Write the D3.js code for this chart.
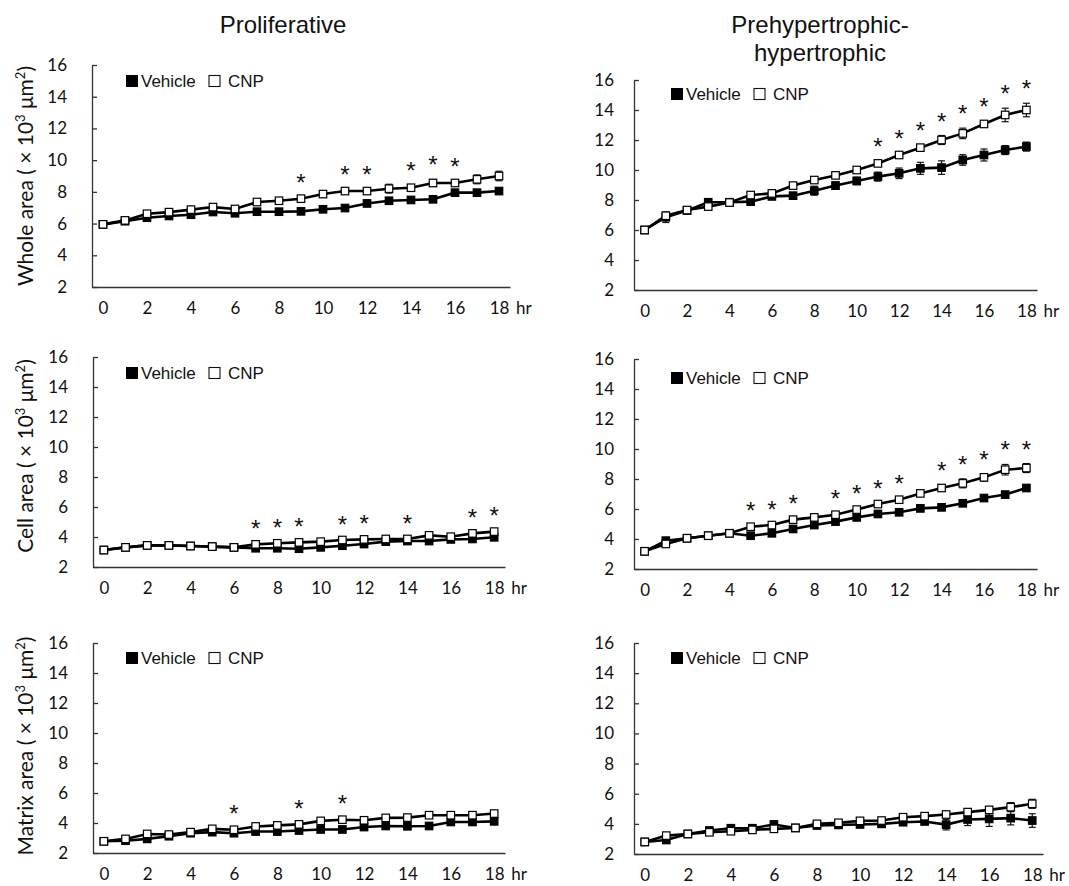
<!DOCTYPE html>
<html>
<head>
<meta charset="utf-8">
<script src="https://cdn.jsdelivr.net/npm/d3@7"></script>
<style>
  body { margin: 0; background: #fff; }
  .axis path, .axis line { stroke: #333; stroke-width: 1.3px; }
  .axis text { font-family: Lato, "Open Sans", sans-serif; font-size: 17px; fill: #111; }
  .hr { font-family: Lato, "Open Sans", sans-serif; font-size: 17px; fill: #111; }
  .title { font-family: "Liberation Sans", Arial, sans-serif; font-size: 24px; fill: #111; }
  .ytitle { font-family: Lato, "Open Sans", sans-serif; font-size: 21px; fill: #111; }
  .legend text { font-family: "Liberation Sans", Arial, sans-serif; font-size: 17px; fill: #111; }
  .star { font-family: "Liberation Sans", Arial, sans-serif; font-size: 24px; fill: #111; }
</style>
</head>
<body>
<script>
// categories and ticks
var hours = [0, 1, 2, 3, 4, 5, 6, 7, 8, 9, 10, 11, 12, 13, 14, 15, 16, 17, 18];
var xTickValues = [0, 2, 4, 6, 8, 10, 12, 14, 16, 18];
var yTickValues = [2, 4, 6, 8, 10, 12, 14, 16];
var columnTitles = [["Proliferative"], ["Prehypertrophic-", "hypertrophic"]];
var rowNames = ["Whole area", "Cell area", "Matrix area"];

// Whole area, proliferative
var wholeProVehicle = [5.95, 6.15, 6.37, 6.48, 6.56, 6.73, 6.65, 6.75, 6.75, 6.77, 6.9, 6.98, 7.27, 7.44, 7.49, 7.53, 7.95, 7.95, 8.05];
var wholeProVehicleErr = [0.05, 0.1, 0.1, 0.1, 0.1, 0.1, 0.1, 0.1, 0.1, 0.1, 0.12, 0.12, 0.12, 0.12, 0.12, 0.12, 0.12, 0.12, 0.12];
var wholeProCNP = [5.95, 6.2, 6.62, 6.72, 6.88, 7.04, 6.92, 7.36, 7.44, 7.57, 7.86, 8.05, 8.05, 8.2, 8.26, 8.56, 8.56, 8.79, 9.0];
var wholeProCNPErr = [0.05, 0.1, 0.12, 0.12, 0.12, 0.15, 0.12, 0.12, 0.12, 0.12, 0.2, 0.15, 0.15, 0.28, 0.15, 0.22, 0.15, 0.28, 0.3];
var wholeProSig = [9, 11, 12, 14, 15, 16];

// Whole area, prehypertrophic-hypertrophic
var wholeHyVehicle = [6.0, 6.85, 7.3, 7.85, 7.85, 7.89, 8.24, 8.29, 8.62, 8.96, 9.27, 9.56, 9.78, 10.11, 10.16, 10.67, 11.0, 11.33, 11.56];
var wholeHyVehicleErr = [0.05, 0.35, 0.2, 0.2, 0.15, 0.2, 0.2, 0.2, 0.3, 0.25, 0.25, 0.3, 0.35, 0.4, 0.45, 0.35, 0.4, 0.3, 0.3];
var wholeHyCNP = [6.0, 6.95, 7.33, 7.56, 7.83, 8.33, 8.44, 8.96, 9.33, 9.64, 10.0, 10.44, 11.0, 11.49, 12.0, 12.44, 13.07, 13.67, 14.0];
var wholeHyCNPErr = [0.05, 0.2, 0.2, 0.15, 0.15, 0.15, 0.15, 0.15, 0.15, 0.15, 0.15, 0.15, 0.15, 0.2, 0.3, 0.35, 0.2, 0.45, 0.45];
var wholeHySig = [11, 12, 13, 14, 15, 16, 17, 18];

// Cell area, proliferative
var cellProVehicle = [3.13, 3.31, 3.44, 3.44, 3.4, 3.36, 3.31, 3.25, 3.25, 3.22, 3.31, 3.42, 3.53, 3.69, 3.73, 3.73, 3.84, 3.87, 3.98];
var cellProVehicleErr = [0.05, 0.08, 0.08, 0.08, 0.08, 0.08, 0.08, 0.08, 0.08, 0.08, 0.08, 0.08, 0.08, 0.08, 0.08, 0.08, 0.08, 0.08, 0.08];
var cellProCNP = [3.13, 3.31, 3.44, 3.44, 3.4, 3.36, 3.31, 3.51, 3.58, 3.64, 3.69, 3.8, 3.84, 3.87, 3.87, 4.11, 4.02, 4.24, 4.36];
var cellProCNPErr = [0.05, 0.08, 0.08, 0.08, 0.08, 0.08, 0.08, 0.08, 0.08, 0.08, 0.08, 0.08, 0.08, 0.08, 0.08, 0.1, 0.08, 0.12, 0.12];
var cellProSig = [7, 8, 9, 11, 12, 14, 17, 18];

// Cell area, prehypertrophic-hypertrophic
var cellHyVehicle = [3.18, 3.89, 4.05, 4.22, 4.38, 4.22, 4.38, 4.67, 4.93, 5.16, 5.44, 5.67, 5.78, 6.04, 6.11, 6.38, 6.73, 6.96, 7.4];
var cellHyVehicleErr = [0.05, 0.1, 0.1, 0.1, 0.1, 0.1, 0.1, 0.1, 0.1, 0.1, 0.1, 0.1, 0.1, 0.1, 0.1, 0.1, 0.1, 0.12, 0.12];
var cellHyCNP = [3.18, 3.67, 4.05, 4.22, 4.38, 4.82, 4.93, 5.29, 5.44, 5.62, 5.96, 6.33, 6.62, 7.04, 7.4, 7.71, 8.11, 8.62, 8.73];
var cellHyCNPErr = [0.05, 0.1, 0.1, 0.1, 0.1, 0.12, 0.1, 0.1, 0.1, 0.1, 0.1, 0.1, 0.1, 0.2, 0.2, 0.3, 0.25, 0.35, 0.3];
var cellHySig = [5, 6, 7, 9, 10, 11, 12, 14, 15, 16, 17, 18];

// Matrix area, proliferative
var matrixProVehicle = [2.78, 2.82, 2.94, 3.12, 3.32, 3.39, 3.32, 3.43, 3.43, 3.5, 3.57, 3.57, 3.73, 3.8, 3.78, 3.8, 4.07, 4.07, 4.11];
var matrixProVehicleErr = [0.05, 0.1, 0.1, 0.1, 0.1, 0.1, 0.1, 0.1, 0.1, 0.1, 0.1, 0.1, 0.1, 0.1, 0.1, 0.1, 0.1, 0.1, 0.1];
var matrixProCNP = [2.78, 2.94, 3.27, 3.23, 3.39, 3.61, 3.55, 3.77, 3.84, 3.91, 4.14, 4.22, 4.18, 4.34, 4.36, 4.52, 4.52, 4.52, 4.63];
var matrixProCNPErr = [0.05, 0.1, 0.1, 0.1, 0.1, 0.1, 0.1, 0.1, 0.1, 0.1, 0.1, 0.1, 0.1, 0.1, 0.1, 0.1, 0.1, 0.12, 0.15];
var matrixProSig = [6, 9, 11];

// Matrix area, prehypertrophic-hypertrophic
var matrixHyVehicle = [2.8, 2.93, 3.33, 3.56, 3.71, 3.71, 3.96, 3.73, 3.89, 3.93, 3.96, 4.0, 4.11, 4.16, 3.95, 4.29, 4.33, 4.38, 4.22];
var matrixHyVehicleErr = [0.05, 0.1, 0.1, 0.1, 0.1, 0.1, 0.1, 0.1, 0.1, 0.15, 0.15, 0.15, 0.2, 0.2, 0.35, 0.4, 0.5, 0.45, 0.45];
var matrixHyCNP = [2.8, 3.22, 3.33, 3.44, 3.51, 3.6, 3.67, 3.73, 4.0, 4.07, 4.2, 4.22, 4.44, 4.51, 4.62, 4.78, 4.93, 5.11, 5.33];
var matrixHyCNPErr = [0.05, 0.1, 0.1, 0.1, 0.1, 0.1, 0.1, 0.1, 0.1, 0.1, 0.15, 0.15, 0.15, 0.15, 0.15, 0.2, 0.2, 0.3, 0.3];
var matrixHySig = [];

var width = 1069, height = 886;

var svg = d3.select("body")
            .append("svg")
            .attr("width", width)
            .attr("height", height);

// panel boxes: x0/x1 = ends of the x axis, y0 = top (16), y1 = bottom (2)
var panels = [
  {veh: wholeProVehicle, vehErr: wholeProVehicleErr, cnp: wholeProCNP, cnpErr: wholeProCNPErr, sig: wholeProSig,
   x0: 92, x1: 510, y0: 65, y1: 287, lx: 126, ly: 81, pad: 25},
  {veh: wholeHyVehicle, vehErr: wholeHyVehicleErr, cnp: wholeHyCNP, cnpErr: wholeHyCNPErr, sig: wholeHySig,
   x0: 634, x1: 1037, y0: 80, y1: 290, lx: 671, ly: 94, pad: 20},
  {veh: cellProVehicle, vehErr: cellProVehicleErr, cnp: cellProCNP, cnpErr: cellProCNPErr, sig: cellProSig,
   x0: 93, x1: 505, y0: 357, y1: 567, lx: 126, ly: 373, pad: 25},
  {veh: cellHyVehicle, vehErr: cellHyVehicleErr, cnp: cellHyCNP, cnpErr: cellHyCNPErr, sig: cellHySig,
   x0: 634, x1: 1037, y0: 359, y1: 569, lx: 671, ly: 378, pad: 20},
  {veh: matrixProVehicle, vehErr: matrixProVehicleErr, cnp: matrixProCNP, cnpErr: matrixProCNPErr, sig: matrixProSig,
   x0: 93, x1: 505, y0: 643, y1: 853, lx: 126, ly: 658, pad: 25},
  {veh: matrixHyVehicle, vehErr: matrixHyVehicleErr, cnp: matrixHyCNP, cnpErr: matrixHyCNPErr, sig: matrixHySig,
   x0: 634, x1: 1043, y0: 643, y1: 854, lx: 671, ly: 658, pad: 20}
];

panels.forEach(function(p, i) {
  var xScale = d3.scaleLinear().domain([-0.5, 18.5]).range([p.x0, p.x1]);
  var yScale = d3.scaleLinear().domain([2, 16]).range([p.y1, p.y0]);

  //Y axis, ticks pointing inward
  var yAxis = d3.axisLeft(yScale)
                .tickValues(yTickValues)
                .tickSizeInner(-5)
                .tickSizeOuter(0)
                .tickPadding(p.pad);
  svg.append("g")
     .attr("class", "axis")
     .attr("transform", "translate(" + p.x0 + ",0)")
     .call(yAxis);

  //X axis
  var xAxis = d3.axisBottom(xScale)
                .tickValues(xTickValues)
                .tickSize(0)
                .tickPadding(15);
  svg.append("g")
     .attr("class", "axis")
     .attr("transform", "translate(0," + p.y1 + ")")
     .call(xAxis);

  svg.append("text")
     .attr("class", "hr")
     .attr("x", xScale(18) + 17)
     .attr("y", p.y1 + 27)
     .text("hr");

  var line = d3.line()
               .x(function(d, j) { return xScale(hours[j]); })
               .y(function(d) { return yScale(d); });

  [{vals: p.veh, err: p.vehErr, fill: "#000"}, {vals: p.cnp, err: p.cnpErr, fill: "#fff"}].forEach(function(s) {
    var g = svg.append("g");

    //error bars
    var eb = g.selectAll(".eb")
              .data(s.vals)
              .enter().append("g");
    eb.append("line")
      .attr("x1", function(d, j) { return xScale(hours[j]); })
      .attr("x2", function(d, j) { return xScale(hours[j]); })
      .attr("y1", function(d, j) { return yScale(d - s.err[j]); })
      .attr("y2", function(d, j) { return yScale(d + s.err[j]); })
      .attr("stroke", "#111").attr("stroke-width", 1.2);
    [-1, 1].forEach(function(sign) {
      eb.append("line")
        .attr("x1", function(d, j) { return xScale(hours[j]) - 3.5; })
        .attr("x2", function(d, j) { return xScale(hours[j]) + 3.5; })
        .attr("y1", function(d, j) { return yScale(d + sign * s.err[j]); })
        .attr("y2", function(d, j) { return yScale(d + sign * s.err[j]); })
        .attr("stroke", "#111").attr("stroke-width", 1.2);
    });

    g.append("path")
     .datum(s.vals)
     .attr("d", line)
     .attr("fill", "none")
     .attr("stroke", "#000")
     .attr("stroke-width", 2.6);

    g.selectAll("rect")
     .data(s.vals)
     .enter().append("rect")
     .attr("x", function(d, j) { return xScale(hours[j]) - 3.75; })
     .attr("y", function(d) { return yScale(d) - 3.75; })
     .attr("width", 7.5)
     .attr("height", 7.5)
     .attr("fill", s.fill)
     .attr("stroke", "#000")
     .attr("stroke-width", 1.2);
  });

  //significance marks
  svg.selectAll(".star" + i)
     .data(p.sig)
     .enter().append("text")
     .attr("class", "star")
     .attr("text-anchor", "middle")
     .attr("x", function(h) { return xScale(h); })
     .attr("y", function(h) { return yScale(p.cnp[h] + p.cnpErr[h]) - 19 + 13; })
     .text("*");

  //legend
  var lg = svg.append("g").attr("class", "legend");
  lg.append("rect")
    .attr("x", p.lx).attr("y", p.ly - 6)
    .attr("width", 12).attr("height", 12)
    .attr("fill", "#000");
  lg.append("text")
    .attr("x", p.lx + 15).attr("y", p.ly + 6)
    .text("Vehicle");
  lg.append("rect")
    .attr("x", p.lx + 83).attr("y", p.ly - 5.5)
    .attr("width", 11).attr("height", 11)
    .attr("fill", "#fff").attr("stroke", "#111").attr("stroke-width", 1.1);
  lg.append("text")
    .attr("x", p.lx + 102).attr("y", p.ly + 6)
    .text("CNP");
});

//Column titles
var titleX = [283, 820];
columnTitles.forEach(function(lines, c) {
  lines.forEach(function(t, k) {
    svg.append("text")
       .attr("class", "title")
       .attr("x", titleX[c])
       .attr("y", 33 + k * 28)
       .attr("text-anchor", "middle")
       .text(t);
  });
});

//Row (y axis) titles
var rowCenter = [176, 456, 746];
rowNames.forEach(function(name, r) {
  var t = svg.append("text")
             .attr("class", "ytitle")
             .attr("text-anchor", "middle")
             .attr("transform", "translate(33," + rowCenter[r] + ") rotate(-90)");
  t.append("tspan").text(name + " ( \u00d7 10");
  t.append("tspan").attr("dy", -8).style("font-size", "13px").text("3");
  t.append("tspan").attr("dy", 8).text(" \u03bcm");
  t.append("tspan").attr("dy", -8).style("font-size", "13px").text("2");
  t.append("tspan").attr("dy", 8).text(")");
});
</script>
</body>
</html>
